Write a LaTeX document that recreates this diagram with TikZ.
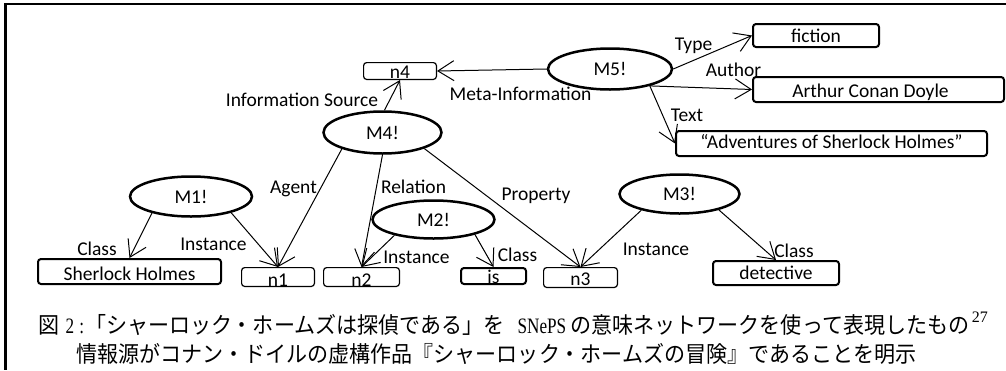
\documentclass[tikz,border=0pt]{standalone}
\usepackage{fontspec}
\setmainfont{Carlito}
\newfontfamily\jpfont[FakeStretch=0.935]{Noto Sans CJK JP}
\newfontfamily\capserfont[FakeStretch=0.78]{Liberation Serif}
\newfontfamily\supserfont{Liberation Serif}
\newcommand\capjp{\fontsize{22.5}{26}\jpfont\selectfont}
\newcommand\capla{\fontsize{22}{26}\capserfont\selectfont}
\newcommand\capsup{\fontsize{16}{19}\supserfont\selectfont}
\usetikzlibrary{shapes.geometric,arrows.meta}
\begin{document}
\begin{tikzpicture}[x=1pt,y=-1pt,
  every node/.style={font=\fontsize{19.5}{23}\selectfont},
  ell/.style={ellipse, draw, line width=2.5pt, inner sep=0pt},
  thinbox/.style={rectangle, draw, rounded corners=3pt, line width=1.2pt, inner sep=0pt, text depth=0pt},
  thickbox/.style={thinbox, line width=2pt},
  lbl/.style={anchor=base, inner sep=0pt},
  arr/.style={line width=1pt, -{Straight Barb[length=16pt,width=20pt]}}
]
\useasboundingbox (0,0) rectangle (1006,370);
% frame
\draw[line width=2.5pt] (1006,4.2) -- (5.5,4.2) -- (5.5,370);

% ellipses
\node[ell, minimum width=124pt, minimum height=41pt] (M5) at (610,69) {M5!};
\node[ell, minimum width=118pt, minimum height=42pt] (M4) at (382.5,132.5) {M4!};
\node[ell, minimum width=122pt, minimum height=40pt] (M1) at (191,196.5) {M1!};
\node[ell, minimum width=122pt, minimum height=38pt] (M2) at (433.5,219.5) {M2!};
\node[ell, minimum width=120pt, minimum height=39pt] (M3) at (679.5,194) {M3!};

% boxes
\node[thinbox, minimum width=72.8pt, minimum height=16.8pt, text height=14pt] (n4) at (400,71) {n4};
\node[thickbox, minimum width=126pt, minimum height=23pt, text height=13pt] (fic) at (816,35.5) {fiction};
\node[thickbox, minimum width=251pt, minimum height=25pt, text height=15pt] (acd) at (878.5,89.5) {\kern-16pt Arthur Conan Doyle};
\node[thickbox, minimum width=311pt, minimum height=25pt, text height=9pt] (adv) at (831.5,143.5) {“Adventures of Sherlock Holmes”};
\node[thickbox, minimum width=183pt, minimum height=25pt, text height=17pt] (sh) at (129.5,271.5) {Sherlock Holmes};
\node[thinbox, minimum width=72.8pt, minimum height=18.8pt, text height=18pt] (n1) at (278,277) {n1};
\node[thinbox, minimum width=75.8pt, minimum height=18.8pt, text height=18pt] (n2) at (361.5,277) {n2};
\node[thickbox, minimum width=65pt, minimum height=16pt, text height=14pt] (is) at (493.5,276) {is};
\node[thinbox, minimum width=73.8pt, minimum height=19.8pt, text height=15pt] (n3) at (580.5,277.5) {n3};
\node[thickbox, minimum width=126pt, minimum height=24pt, text height=12pt] (det) at (776,273) {detective};

% connectors
\draw[arr] (M5.west) -- (n4.east);
\draw[arr] (M5.east) -- (fic.west);
\draw[arr] (M5.-23) -- (acd.west);
\draw[arr] (M5.-23) -- (adv.west);
\draw[arr] (M4.85) -- (n4.south);
\draw[arr] (M4.-158) -- (n1.north);
\draw[arr] (M4.south) -- (n2.north);
\draw[arr] (M4.-21) -- (n3.north);
\draw[arr] (M1.-157) -- (sh.north);
\draw[arr] (M1.-22) -- (n1.north);
\draw[arr] (M2.-158) -- (n2.north);
\draw[arr] (M2.-20) -- (is.north);
\draw[arr] (M3.-157) -- (n3.north);
\draw[arr] (M3.-22.5) -- (det.north);

% labels
\node[lbl] (lmeta) at (520.5,100) {Meta-Information};
\node[lbl] (linfo) at (302,106) {Information Source};
\node[lbl] (ltype) at (693.5,50) {Type};
\node[lbl] (lauth) at (733.5,76) {Author};
\node[lbl] (ltext) at (687,121) {Text};
\node[lbl] (lagent) at (293.5,193) {Agent};
\node[lbl] (lrel) at (413.5,193) {Relation};
\node[lbl] (lprop) at (536,200.5) {Property};
\node[lbl] (lc1) at (97,255) {Class};
\node[lbl] (li1) at (213.5,250.5) {Instance};
\node[lbl] (li2) at (416.5,263) {Instance};
\node[lbl] (lc2) at (517.5,261) {Class};
\node[lbl] (li3) at (656,255) {Instance};
\node[lbl] (lc3) at (794,257) {Class};

% caption
\node[anchor=base west, inner sep=0pt] (cap1) at (38,333.5) {\capjp 図\hspace{6.5pt}{\capla 2}\hspace{5pt}{\capla :}\hspace{1pt}「シャーロック・ホームズは探偵である」を\hspace{13pt}{\capla SNePS}\hspace{4.4pt}の意味ネットワークを使って表現したもの\hspace{2.5pt}\raisebox{11pt}{\capsup 27}};
\node[anchor=base west, inner sep=0pt] (cap2) at (76,362.5) {\capjp 情報源がコナン・ドイルの虚構作品『シャーロック・ホームズの冒険』であることを明示};
\end{tikzpicture}
\end{document}
